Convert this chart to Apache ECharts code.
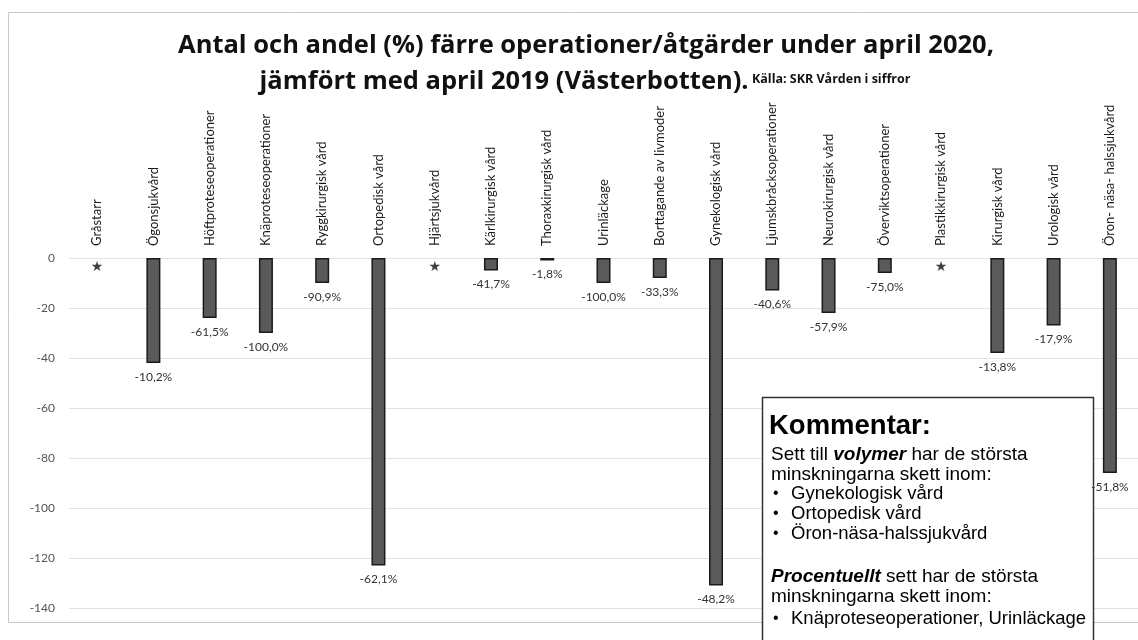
<!DOCTYPE html>
<html><head><meta charset="utf-8">
<script src="https://cdn.jsdelivr.net/npm/echarts@6/dist/echarts.min.js"></script>
<style>html,body{margin:0;padding:0;background:#fff}#c{width:1138px;height:640px}</style>
</head><body><div id="c"></div>
<script>
const categories = ['Gråstarr','Ögonsjukvård','Höftproteseoperationer','Knäproteseoperationer','Ryggkirurgisk vård','Ortopedisk vård','Hjärtsjukvård','Kärlkirurgisk vård','Thoraxkirurgisk vård','Urinläckage','Borttagande av livmoder','Gynekologisk vård','Ljumskbråcksoperationer','Neurokirurgisk vård','Överviktsoperationer','Plastikkirurgisk vård','Kirurgisk vård','Urologisk vård','Öron- näsa- halssjukvård'];
const values = [null,-42,-24,-30,-10,-123,null,-5,-1,-10,-8,-131,-13,-22,-6,null,-38,-27,-86];
const percentLabels = [null,'-10,2%','-61,5%','-100,0%','-90,9%','-62,1%',null,'-41,7%','-1,8%','-100,0%','-33,3%','-48,2%','-40,6%','-57,9%','-75,0%',null,'-13,8%','-17,9%','-51,8%'];
const starMarks = [0,null,null,null,null,null,0,null,null,null,null,null,null,null,null,0,null,null,null];
const yMin = -140, yMax = 0, yStep = 20;
const titleLine1 = 'Antal och andel (%) färre operationer/åtgärder under april 2020,';
const titleLine2 = 'jämfört med april 2019 (Västerbotten).';
const sourceText = 'Källa: SKR Vården i siffror';
const commentHead = 'Kommentar:';
const commentVolume = ['Sett till ', 'volymer', ' har de största', 'minskningarna skett inom:'];
const volumeItems = ['Gynekologisk vård','Ortopedisk vård','Öron-näsa-halssjukvård'];
const commentPercent = ['Procentuellt', ' sett har de största', 'minskningarna skett inom:'];
const percentItems = ['Knäproteseoperationer, Urinläckage'];

const chartFont = 'Lato, sans-serif';
const titleFont = '"Open Sans", Lato, sans-serif';
const boxFont = '"Liberation Sans", Arial, sans-serif';

const chart = echarts.init(document.getElementById('c'));
const graphics = [
  {type:'rect', z:-10, shape:{x:8.5,y:12.5,width:1150,height:610}, style:{fill:'none',stroke:'#c8c8c8',lineWidth:1}},
  {type:'text', x:586, y:46, style:{text:titleLine1, font:'bold 25.5px '+titleFont, fill:'#111', align:'center', verticalAlign:'middle'}},
  {type:'text', x:585, y:82, style:{text:'{t|'+titleLine2+'} {s|'+sourceText+'}', align:'center', verticalAlign:'middle',
     rich:{t:{font:'bold 25.5px '+titleFont, fill:'#111'}, s:{font:'bold 12.5px '+titleFont, fill:'#111', padding:[0,0,5,0]}}}},
  {type:'rect', z:1, shape:{x:762.5,y:397.5,width:331,height:300}, style:{fill:'#fff',stroke:'#333',lineWidth:1.5}},
  {type:'text', z:1, x:769, y:426, style:{text:commentHead, font:'bold 27.5px '+boxFont, fill:'#000', verticalAlign:'middle'}},
  {type:'text', z:1, x:771, y:455, style:{text:'{n|'+commentVolume[0]+'}{b|'+commentVolume[1]+'}{n|'+commentVolume[2]+'}', verticalAlign:'middle',
     rich:{n:{font:'19px '+boxFont, fill:'#000'}, b:{font:'italic bold 19px '+boxFont, fill:'#000'}}}},
  {type:'text', z:1, x:771, y:475, style:{text:commentVolume[3], font:'19px '+boxFont, fill:'#000', verticalAlign:'middle'}},
  {type:'text', z:1, x:771, y:577, style:{text:'{b|'+commentPercent[0]+'}{n|'+commentPercent[1]+'}', verticalAlign:'middle',
     rich:{n:{font:'19px '+boxFont, fill:'#000'}, b:{font:'italic bold 19px '+boxFont, fill:'#000'}}}},
  {type:'text', z:1, x:771, y:597, style:{text:commentPercent[2], font:'19px '+boxFont, fill:'#000', verticalAlign:'middle'}}
];
const bulletY1 = [494, 514, 534];
volumeItems.forEach((t,i)=>{
  graphics.push({type:'text', z:1, x:773, y:bulletY1[i], style:{text:'•', font:'16px '+boxFont, fill:'#000', verticalAlign:'middle'}});
  graphics.push({type:'text', z:1, x:791, y:bulletY1[i], style:{text:t, font:'18.5px '+boxFont, fill:'#000', verticalAlign:'middle'}});
});
percentItems.forEach((t,i)=>{
  graphics.push({type:'text', z:1, x:773, y:619+i*20, style:{text:'•', font:'16px '+boxFont, fill:'#000', verticalAlign:'middle'}});
  graphics.push({type:'text', z:1, x:791, y:619+i*20, style:{text:t, font:'18.5px '+boxFont, fill:'#000', verticalAlign:'middle'}});
});

chart.setOption({
  animation:false,
  backgroundColor:'#fff',
  grid:{left:69, top:258, width:1077, height:350},
  xAxis:{type:'category', position:'top', data:categories,
    axisLine:{show:false}, axisTick:{show:false},
    axisLabel:{rotate:90, margin:12, interval:0, fontFamily:chartFont, fontSize:13, color:'#1a1a1a'}},
  yAxis:{type:'value', min:yMin, max:yMax, interval:yStep,
    axisLine:{show:false}, axisTick:{show:false},
    axisLabel:{margin:14, fontFamily:chartFont, fontSize:12, color:'#555'},
    splitLine:{lineStyle:{color:'#e2e2e2', width:1}}},
  graphic:graphics,
  series:[
    {type:'bar', z:3, data:values, barWidth:14,
     itemStyle:{color:'#5a5a5a', borderColor:'#1a1a1a', borderWidth:1.5},
     label:{show:true, position:'bottom', distance:8, fontFamily:chartFont, fontSize:12, color:'#333',
       formatter:p=>percentLabels[p.dataIndex]||''}},
    {type:'scatter', z:3, data:starMarks, symbolSize:0.01,
     label:{show:true, position:'inside', offset:[0,9], formatter:'★', fontFamily:'DejaVu Sans', fontSize:14, color:'#111'}}
  ]
});
</script></body></html>
